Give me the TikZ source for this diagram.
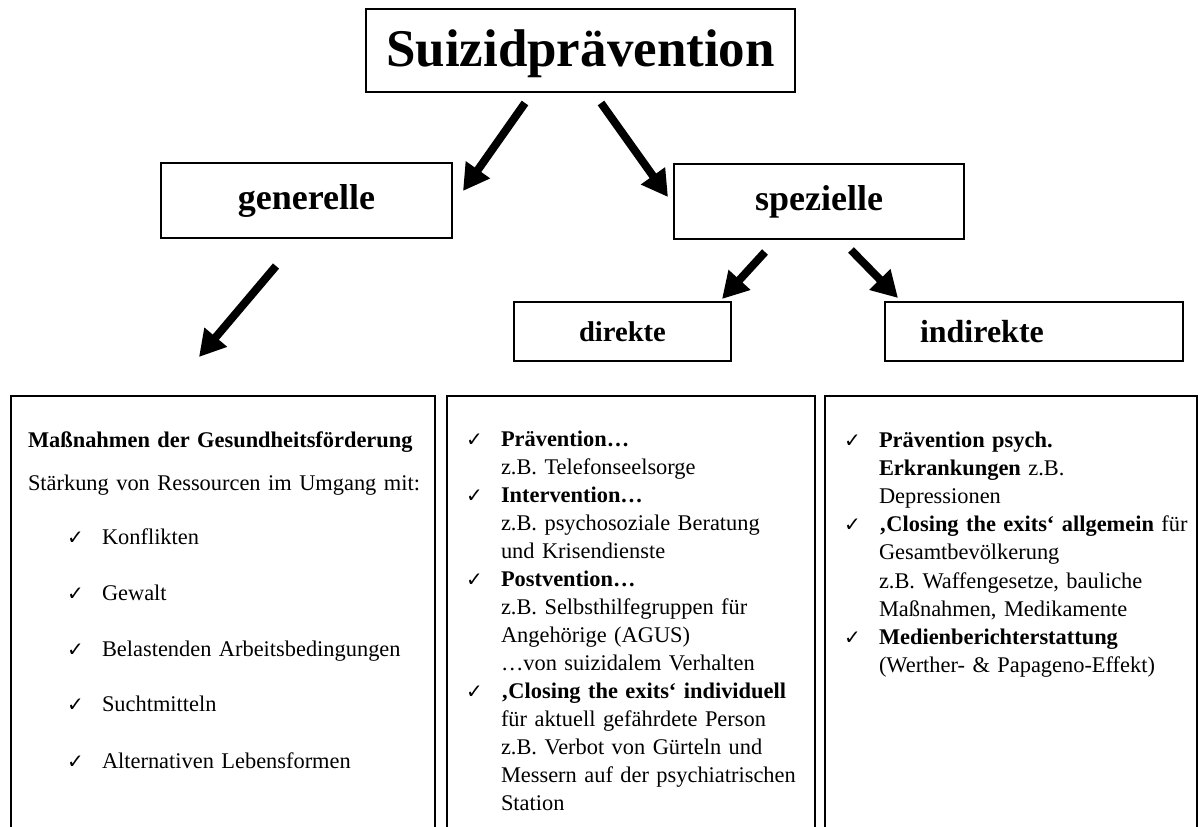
\documentclass[tikz,border=0pt]{standalone}
\usepackage{fontspec}
\setmainfont{Liberation Serif}
\newfontfamily\checkfont{DejaVu Sans}
\usetikzlibrary{arrows.meta}
\newcommand\chk{\leavevmode\llap{\makebox[17.5pt][l]{\checkfont\fontsize{10}{10}\selectfont ✓}}}
\begin{document}
\begin{tikzpicture}[x=0.5pt,y=-0.5pt,
  box/.style={draw, line width=1pt, inner sep=0pt, outer sep=0pt, font=\bfseries},
  bigarrow/.style={line width=4pt, -{Triangle[width=14pt,length=13pt]}},
  txt/.style={anchor=base west, inner sep=0pt, outer sep=0pt, align=left},
  body/.style={font=\fontsize{11.2}{14}\selectfont}]
\useasboundingbox (0,0) rectangle (1200,826);
\clip (0,0) rectangle (1200,826);
% top boxes
\node[box, minimum width=214.5pt, minimum height=41.5pt,
      font=\bfseries\fontsize{26.5}{30}\selectfont, text height=18pt, text depth=2.5pt]
      (title) at (580.5,50.5) {Suizidprävention};
\node[box, minimum width=145.5pt, minimum height=37.5pt,
      font=\bfseries\fontsize{18}{20}\selectfont] (gen) at (306.5,200.5) {generelle};
\node[box, minimum width=145pt, minimum height=37.5pt,
      font=\bfseries\fontsize{18}{20}\selectfont] (spez) at (819,201.5) {spezielle};
\node[box, minimum width=108.5pt, minimum height=29.5pt,
      font=\bfseries\fontsize{14.3}{16}\selectfont] (dir) at (622.5,331.5) {direkte};
\node[box, text width=114pt, inner xsep=17.5pt, align=left, minimum height=29.5pt,
      font=\bfseries\fontsize{16}{18}\selectfont] (indir) at (1034,331.5) {indirekte};
% bottom boxes
\node[box, minimum width=212pt, minimum height=227pt] (links) at (223,623) {};
\node[box, minimum width=184pt, minimum height=227pt] (mitte) at (631,623) {};
\node[box, minimum width=186pt, minimum height=227pt] (rechts) at (1011,623) {};
% arrows
\coordinate (a1s) at (525,103); \coordinate (a1e) at (463,191);
\coordinate (a2s) at (601,103); \coordinate (a2e) at (668,197);
\coordinate (a3s) at (276,266); \coordinate (a3e) at (199,357);
\coordinate (a4s) at (765,252); \coordinate (a4e) at (722,299);
\coordinate (a5s) at (851,250); \coordinate (a5e) at (898,298);
\draw[bigarrow] (a1s) -- (a1e);
\draw[bigarrow] (a2s) -- (a2e);
\draw[bigarrow] (a3s) -- (a3e);
\draw[bigarrow] (a4s) -- (a4e);
\draw[bigarrow] (a5s) -- (a5e);
% left content
\node[txt, body, text width=205pt] (linkstxt) at (28,447)
  {\textbf{Maßnahmen der Gesundheitsförderung}\\[7.5pt]
   Stärkung von Ressourcen im Umgang mit:};
\node[txt, body, text width=160pt] (linksliste) at (102,544)
  {\chk Konflikten\\[14pt]
   \chk Gewalt\\[14.3pt]
   \chk Belastenden Arbeitsbedingungen\\[13.5pt]
   \chk Suchtmitteln\\[14.3pt]
   \chk Alternativen Lebensformen};
% middle content
\node[txt, body, text width=170pt] (mittetxt) at (501,446)
  {\chk\textbf{Prävention…}\\
   z.B. Telefonseelsorge\\
   \chk\textbf{Intervention…}\\
   z.B. psychosoziale Beratung\\
   und Krisendienste\\
   \chk\textbf{Postvention…}\\
   z.B. Selbsthilfegruppen für\\
   Angehörige (AGUS)\\
   …von suizidalem Verhalten\\
   \chk\textbf{‚Closing the exits‘ individuell}\\
   für aktuell gefährdete Person\\
   z.B. Verbot von Gürteln und\\
   Messern auf der psychiatrischen\\
   Station};
% right content
\node[txt, font=\fontsize{11.2}{14.1}\selectfont, text width=160pt] (rechtstxt) at (879,447)
  {\chk\textbf{Prävention psych.}\\
   \textbf{Erkrankungen} z.B.\\
   Depressionen\\
   \chk\textbf{‚Closing the exits‘ allgemein} für\\
   Gesamtbevölkerung\\
   z.B. Waffengesetze, bauliche\\
   Maßnahmen, Medikamente\\
   \chk\textbf{Medienberichterstattung}\\
   (Werther- \& Papageno-Effekt)};
\end{tikzpicture}
\end{document}
